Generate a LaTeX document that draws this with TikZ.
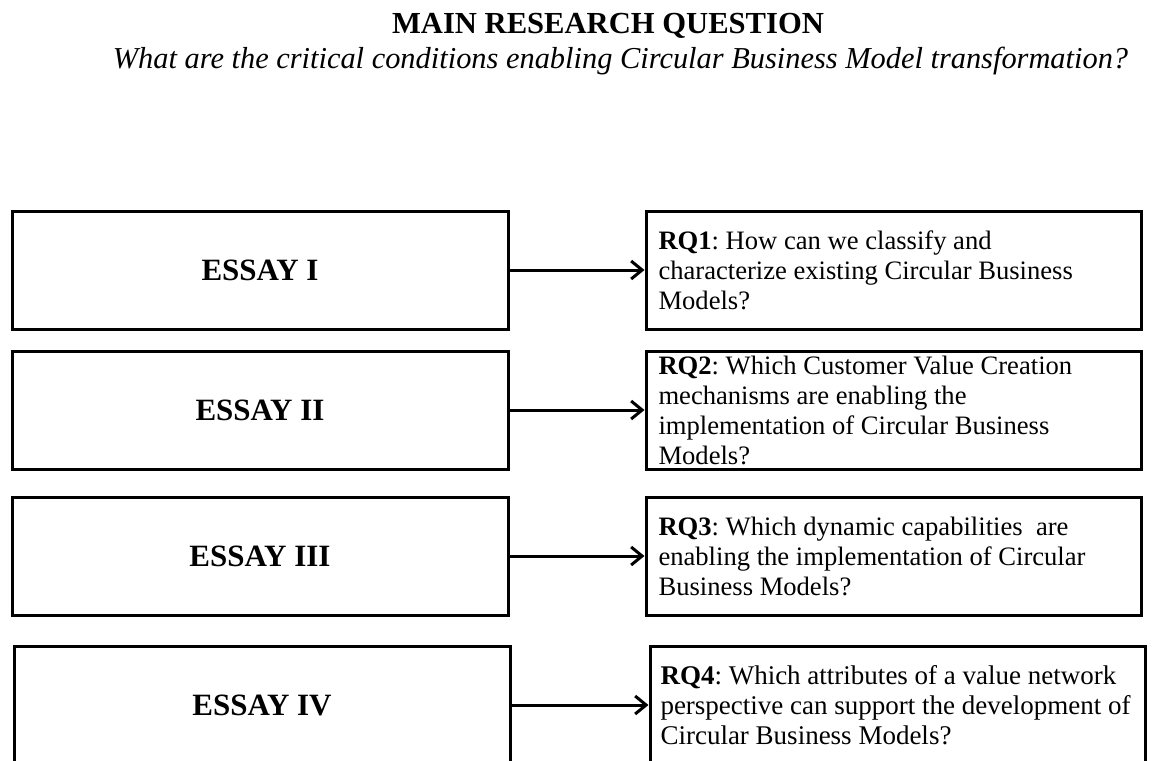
\documentclass[tikz,border=0pt]{standalone}
\usepackage{fontspec}
\setmainfont{Liberation Serif}
\usetikzlibrary{arrows.meta}
\frenchspacing
\begin{document}
\begin{tikzpicture}[x=0.5pt,y=-0.5pt,
  essaybox/.style={draw, line width=1.5pt, minimum width=248pt, minimum height=59pt,
    inner sep=0pt, font=\fontsize{15.5}{18}\selectfont\bfseries},
  rqbox/.style={draw, line width=1.5pt, minimum width=247.5pt, minimum height=59pt,
    text width=235pt, align=flush left, inner xsep=5.5pt, inner ysep=0pt,
    font=\fontsize{13.3}{15}\selectfont},
  link/.style={-{Straight Barb[length=5.5pt,width=9pt,line width=1.5pt]}, line width=1.5pt}
]
\useasboundingbox (0,0) rectangle (1155,760);
\fill[white] (0,0) rectangle (1155,760);

% heading
\node[font=\fontsize{15.3}{18}\selectfont\bfseries] (title) at (608,26) {MAIN RESEARCH QUESTION};
\node[font=\fontsize{15.2}{18}\selectfont\itshape] (question) at (620.5,61)
  {What are the critical conditions enabling Circular Business Model transformation?};

% essays
\node[essaybox] (e1) at (260,270) {ESSAY I};
\node[essaybox] (e2) at (260,410) {ESSAY II};
\node[essaybox] (e3) at (260,556) {ESSAY III};
\node[essaybox] (e4) at (262,705) {ESSAY IV};

% research questions
\node[rqbox] (r1) at (893.5,270) {\textbf{RQ1}: How can we classify and\\
  characterize existing Circular Business\\ Models?};
\node[rqbox] (r2) at (893.5,410) {\textbf{RQ2}: Which Customer Value Creation\\
  mechanisms are enabling the\\ implementation of Circular Business\\ Models?};
\node[rqbox] (r3) at (893.5,556) {\textbf{RQ3}: Which dynamic capabilities\ \ are\\
  enabling the implementation of Circular\\ Business Models?};
\node[rqbox, text width=237pt, inner xsep=5pt, font=\fontsize{13.5}{15}\selectfont] (r4) at (897.5,705)
  {\textbf{RQ4}: Which attributes of a value network\\
  perspective can support the development of\\ Circular Business Models?};

% links
\draw[link] (e1.east) -- (r1.west);
\draw[link] (e2.east) -- (r2.west);
\draw[link] (e3.east) -- (r3.west);
\draw[link] (e4.east) -- (r4.west);
\end{tikzpicture}
\end{document}
